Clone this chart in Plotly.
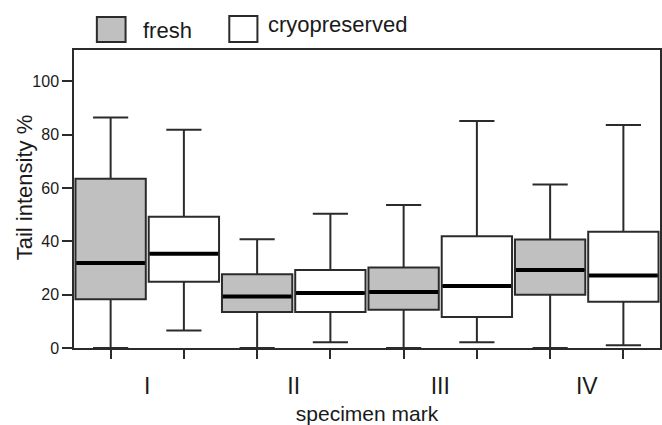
import plotly.graph_objects as go

categories = ["I", "II", "III", "IV"]
groups = ["fresh", "cryopreserved"]

fresh_lower = [0.0, 0.0, 0.0, 0.0]
fresh_q1 = [18.3, 13.5, 14.3, 20.0]
fresh_median = [31.9, 19.3, 21.0, 29.2]
fresh_q3 = [63.4, 27.6, 30.2, 40.7]
fresh_upper = [86.4, 40.8, 53.6, 61.3]

cryo_lower = [6.6, 2.2, 2.2, 1.0]
cryo_q1 = [24.8, 13.5, 11.6, 17.3]
cryo_median = [35.3, 20.6, 23.2, 27.2]
cryo_q3 = [49.2, 29.2, 41.9, 43.6]
cryo_upper = [81.8, 50.3, 85.1, 83.6]

y_ticks = [0, 20, 40, 60, 80, 100]
y_title = "Tail intensity %"
x_title = "specimen mark"

FONT = "Liberation Sans, Arial, sans-serif"
EDGE = "#2b2b2b"
GRAY = "#c0c0c0"

n = len(categories)
fresh_x = [2 * i for i in range(n)]
cryo_x = [2 * i + 1 for i in range(n)]
pair_x = [2 * i + 0.5 for i in range(n)]

fig = go.Figure()

for name, xs, lo, q1, med, q3, up, fill in [
    (groups[0], fresh_x, fresh_lower, fresh_q1, fresh_median, fresh_q3, fresh_upper, GRAY),
    (groups[1], cryo_x, cryo_lower, cryo_q1, cryo_median, cryo_q3, cryo_upper, "white"),
]:
    fig.add_trace(go.Box(
        name=name, x=xs, q1=q1, median=med, q3=q3,
        lowerfence=lo, upperfence=up,
        width=0.96, whiskerwidth=0.5,
        fillcolor=fill, line=dict(color=EDGE, width=2),
        boxpoints=False, showlegend=False, hoverinfo="skip",
    ))
    fig.add_trace(go.Scatter(
        x=xs, y=med, mode="markers", showlegend=False, hoverinfo="skip",
        marker=dict(symbol="line-ew", size=49, color="black",
                    line=dict(color="black", width=4)),
    ))

# invisible trace on overlay axis for category labels
fig.add_trace(go.Scatter(x=pair_x, y=[None] * n, xaxis="x2", showlegend=False,
                         hoverinfo="skip", mode="markers"))

fig.update_layout(
    width=662, height=425,
    margin=dict(l=74, r=0, t=50, b=77),
    paper_bgcolor="white", plot_bgcolor="white",
    font=dict(family=FONT, color="#1a1a1a"),
    showlegend=False,
    xaxis=dict(
        range=[-0.5, 7.5], tickvals=fresh_x + cryo_x, showticklabels=False,
        ticks="outside", ticklen=9, tickwidth=1.5, tickcolor=EDGE,
        showline=True, mirror=True, linecolor=EDGE, linewidth=1.5,
        showgrid=False, zeroline=False,
        title=dict(text=x_title, font=dict(size=21, family=FONT), standoff=50),
    ),
    xaxis2=dict(
        range=[-0.5, 7.5], overlaying="x", side="bottom", anchor="y",
        tickvals=pair_x, ticktext=categories, ticks="",
        tickfont=dict(size=23, family=FONT), ticklabelstandoff=22,
        showline=False, showgrid=False, zeroline=False,
    ),
    yaxis=dict(
        range=[0, 111.7], tickvals=y_ticks,
        ticks="outside", ticklen=10, tickwidth=1.5, tickcolor=EDGE,
        tickfont=dict(size=16, family=FONT),
        showline=True, mirror=True, linecolor=EDGE, linewidth=1.5,
        showgrid=False, zeroline=False,
    ),
    shapes=[
        dict(type="rect", xref="paper", yref="paper", x0=0.039, x1=0.088,
             y0=1.027, y1=1.111, fillcolor=GRAY, line=dict(color=EDGE, width=2)),
        dict(type="rect", xref="paper", yref="paper", x0=0.265, x1=0.313,
             y0=1.027, y1=1.114, fillcolor="white", line=dict(color=EDGE, width=2)),
    ],
    annotations=[
        dict(text=groups[0], xref="paper", yref="paper", x=0.114, y=1.064,
             xanchor="left", yanchor="middle", showarrow=False,
             font=dict(size=22, family=FONT)),
        dict(text=groups[1], xref="paper", yref="paper", x=0.328, y=1.085,
             xanchor="left", yanchor="middle", showarrow=False,
             font=dict(size=22, family=FONT)),
        dict(text=y_title, xref="paper", yref="paper", x=-0.085, y=0.54,
             xanchor="center", yanchor="middle", textangle=-90, showarrow=False,
             font=dict(size=22, family=FONT)),
    ],
)

fig.write_html("out.html")
